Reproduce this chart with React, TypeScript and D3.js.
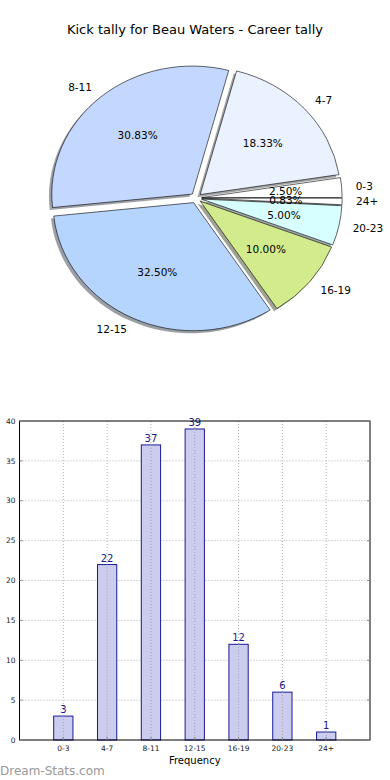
import React from 'react';
import * as d3 from 'd3';

const categories = ['0-3', '4-7', '8-11', '12-15', '16-19', '20-23', '24+'];
const kicks = [3, 22, 37, 39, 12, 6, 1];
const sliceColors = ['#ffffff', '#eaf2ff', '#c4d8ff', '#b5d5ff', '#d2eb8c', '#d8ffff', '#ffffff'];
const yTicks = [0, 5, 10, 15, 20, 25, 30, 35, 40];

const FONT = 'DejaVu Sans, sans-serif';

const Pie = () => {
  const cx = 196;
  const cy = 198;
  const rx = 140.5;
  const ry = 128;
  const explode = 0.04;
  const total = d3.sum(kicks);

  // matplotlib style: start at east, counterclockwise
  const arcs = d3
    .pie<number>()
    .sort(null)
    .startAngle(Math.PI / 2)
    .endAngle(Math.PI / 2 - 2 * Math.PI)(kicks);

  const arcGen = d3.arc<d3.PieArcDatum<number>>().innerRadius(0).outerRadius(1);

  const slices = arcs.map((a, i) => {
    const mid = (a.startAngle + a.endAngle) / 2;
    const ox = Math.sin(mid) * explode;
    const oy = -Math.cos(mid) * explode;
    return { a, i, mid, ox, oy };
  });

  return (
    <g>
      {/* shadows */}
      {slices.map(({ a, i, ox, oy }) => {
        const c = d3.rgb(sliceColors[i]);
        const dark = d3.rgb(c.r * 0.3, c.g * 0.3, c.b * 0.3).toString();
        return (
          <path
            key={'s' + i}
            d={arcGen(a) || ''}
            transform={`translate(${cx + (ox - 0.02) * rx},${cy + (oy + 0.02) * ry}) scale(${rx},${ry})`}
            fill={dark}
            opacity={0.5}
          />
        );
      })}
      {slices.map(({ a, i, ox, oy }) => (
        <path
          key={'w' + i}
          d={arcGen(a) || ''}
          transform={`translate(${cx + ox * rx},${cy + oy * ry}) scale(${rx},${ry})`}
          fill={sliceColors[i]}
          stroke="#000"
          strokeWidth={0.6}
          vectorEffect="non-scaling-stroke"
        />
      ))}
      {slices.map(({ i, mid, ox, oy }) => {
        const ux = Math.sin(mid);
        const uy = -Math.cos(mid);
        const lx = cx + (ox + 1.1 * ux) * rx;
        const ly = cy + (oy + 1.1 * uy) * ry;
        const px = cx + (ox + 0.6 * ux) * rx;
        const py = cy + (oy + 0.6 * uy) * ry;
        return (
          <g key={'l' + i} fontFamily={FONT} fontSize={10.5} fill="#000">
            <text x={lx} y={ly} dy="0.35em" textAnchor={ux > 0 ? 'start' : 'end'}>
              {categories[i]}
            </text>
            <text x={px} y={py} dy="0.35em" textAnchor="middle">
              {((kicks[i] / total) * 100).toFixed(2) + '%'}
            </text>
          </g>
        );
      })}
    </g>
  );
};

const Bars = () => {
  const left = 19.5;
  const right = 370;
  const top = 421;
  const bottom = 740;
  const x = d3.scaleLinear().domain([0, 8]).range([left, right]);
  const y = d3.scaleLinear().domain([0, 40]).range([bottom, top]);
  const bw = x(0.44) - x(0);

  return (
    <g fontFamily={FONT}>
      {/* grid */}
      {yTicks.slice(1, -1).map((t) => (
        <line key={'gy' + t} x1={left} x2={right} y1={y(t)} y2={y(t)} stroke="#b0b0b0" strokeDasharray="1,2" />
      ))}
      {categories.map((c, i) => (
        <line key={'gx' + c} x1={x(i + 1)} x2={x(i + 1)} y1={top} y2={bottom} stroke="#b0b0b0" strokeDasharray="1,2" />
      ))}
      {kicks.map((v, i) => (
        <g key={'b' + i}>
          <rect
            x={x(i + 1) - bw / 2}
            y={y(v)}
            width={bw}
            height={bottom - y(v)}
            fill="#ccccee"
            stroke="#1a1a99"
            strokeWidth={1}
          />
          <line x1={x(i + 1)} x2={x(i + 1)} y1={y(v)} y2={bottom} stroke="#a0a0b8" strokeDasharray="1,2" />
          <text x={x(i + 1)} y={y(v) - 3} textAnchor="middle" fontSize={10} fill="#1a1a8c">
            {v}
          </text>
        </g>
      ))}
      <rect x={left} y={top} width={right - left} height={bottom - top} fill="none" stroke="#000" strokeWidth={1} />
      {yTicks.map((t) => (
        <g key={'ty' + t}>
          <line x1={left} x2={left + 3} y1={y(t)} y2={y(t)} stroke="#888" />
          <line x1={right - 3} x2={right} y1={y(t)} y2={y(t)} stroke="#888" />
          <text x={left - 4} y={y(t)} dy="0.35em" textAnchor="end" fontSize={7.5} fill="#222">
            {t}
          </text>
        </g>
      ))}
      {categories.map((c, i) => (
        <g key={'tx' + c}>
          <line x1={x(i + 1)} x2={x(i + 1)} y1={bottom} y2={bottom - 3} stroke="#888" />
          <text x={x(i + 1)} y={bottom + 11} textAnchor="middle" fontSize={7.5} fill="#222">
            {c}
          </text>
        </g>
      ))}
      <text x={(left + right) / 2} y={764} textAnchor="middle" fontSize={10} fill="#000">
        Frequency
      </text>
    </g>
  );
};

export default function App() {
  return (
    <svg
      width={390}
      height={780}
      style={{ position: 'absolute', left: 0, top: 0, background: '#fff' }}
    >
      <text x={195} y={34} textAnchor="middle" fontFamily={FONT} fontSize={13} fill="#000">
        Kick tally for Beau Waters - Career tally
      </text>
      <Pie />
      <Bars />
      <text x={0} y={775} fontFamily={FONT} fontSize={12} fill="#999999">
        Dream-Stats.com
      </text>
    </svg>
  );
}
